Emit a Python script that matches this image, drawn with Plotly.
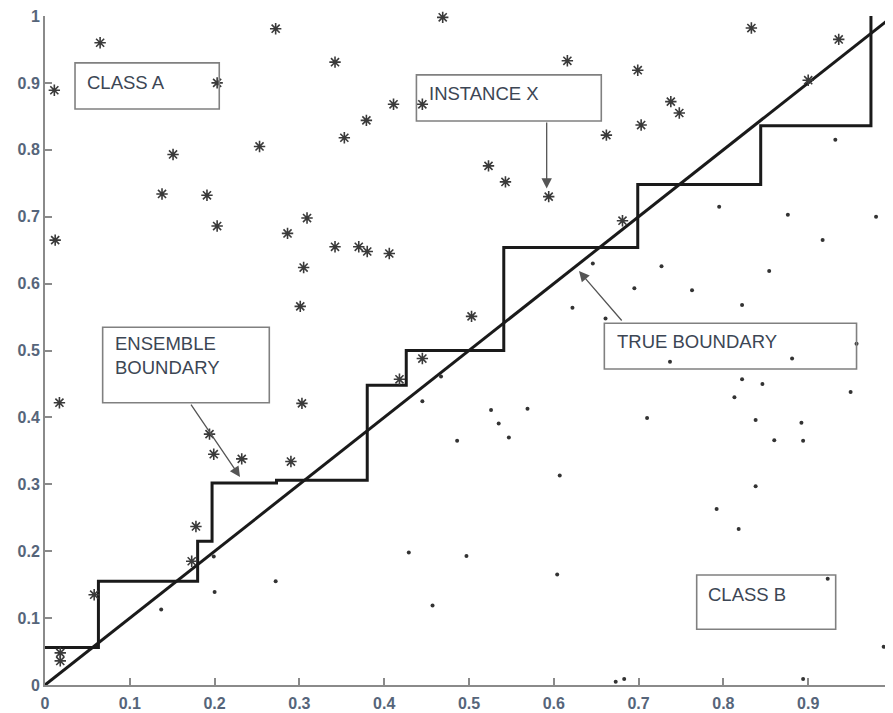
import plotly.graph_objects as go

# ---- data ----
class_a_x = [0.011, 0.065, 0.203, 0.272, 0.151, 0.138, 0.191, 0.203, 0.253, 0.286, 0.012,
             0.469, 0.342, 0.616, 0.411, 0.445, 0.379, 0.353, 0.523, 0.543, 0.594, 0.309,
             0.833, 0.936, 0.699, 0.900, 0.738, 0.748, 0.703, 0.662, 0.681,
             0.017, 0.301, 0.303, 0.194, 0.199, 0.232, 0.290, 0.305,
             0.342, 0.370, 0.380, 0.406, 0.503, 0.445, 0.418,
             0.018, 0.018, 0.058, 0.178, 0.173]
class_a_y = [0.889, 0.960, 0.900, 0.981, 0.793, 0.734, 0.732, 0.686, 0.805, 0.675, 0.665,
             0.998, 0.931, 0.933, 0.868, 0.868, 0.844, 0.818, 0.776, 0.752, 0.730, 0.698,
             0.982, 0.965, 0.919, 0.904, 0.872, 0.855, 0.837, 0.822, 0.694,
             0.422, 0.566, 0.421, 0.375, 0.345, 0.338, 0.334, 0.624,
             0.655, 0.655, 0.648, 0.645, 0.551, 0.488, 0.457,
             0.048, 0.036, 0.135, 0.237, 0.185]

class_b_x = [0.932, 0.795, 0.876, 0.980, 0.917,
             0.622, 0.467, 0.445, 0.526, 0.569, 0.535, 0.547, 0.486,
             0.646, 0.727, 0.854, 0.695, 0.763, 0.822, 0.661, 0.957, 0.737, 0.881, 0.822,
             0.846, 0.813, 0.950, 0.710, 0.838, 0.892, 0.860, 0.894,
             0.199, 0.137, 0.200, 0.272,
             0.607, 0.429, 0.497, 0.604, 0.457,
             0.838, 0.792, 0.818, 0.923, 0.989, 0.673, 0.683, 0.894]
class_b_y = [0.815, 0.715, 0.703, 0.700, 0.665,
             0.564, 0.461, 0.424, 0.411, 0.413, 0.391, 0.370, 0.365,
             0.630, 0.626, 0.619, 0.593, 0.590, 0.568, 0.548, 0.510, 0.483, 0.488, 0.457,
             0.450, 0.430, 0.438, 0.399, 0.396, 0.392, 0.366, 0.365,
             0.192, 0.113, 0.139, 0.155,
             0.313, 0.198, 0.193, 0.165, 0.119,
             0.297, 0.263, 0.233, 0.159, 0.057, 0.005, 0.009, 0.009]

ensemble_x = [0.0, 0.063, 0.180, 0.197, 0.273, 0.380, 0.426, 0.541, 0.699, 0.844, 0.974]
ensemble_y = [0.056, 0.155, 0.215, 0.302, 0.306, 0.448, 0.500, 0.654, 0.748, 0.836, 1.0]

true_x = [0.0, 1.0]
true_y = [0.0, 1.0]

tick_vals = [0, 0.1, 0.2, 0.3, 0.4, 0.5, 0.6, 0.7, 0.8, 0.9, 1]
tick_text = ["0", "0.1", "0.2", "0.3", "0.4", "0.5", "0.6", "0.7", "0.8", "0.9", "1"]

# label boxes: (text, x0, x1, y0, y1, text_x, text_y)
boxes = [
    ("CLASS A", 0.0354, 0.2055, 0.861, 0.930, 0.047, 0.900),
    ("INSTANCE X", 0.438, 0.656, 0.843, 0.912, 0.4505, 0.884),
    ("ENSEMBLE<br>BOUNDARY", 0.068, 0.2645, 0.422, 0.5347, 0.080, 0.493),
    ("TRUE BOUNDARY", 0.6596, 0.957, 0.4723, 0.5407, 0.672, 0.513),
    ("CLASS B", 0.7685, 0.9324, 0.0833, 0.1644, 0.780, 0.136),
]
# arrows: (head_x, head_y, tail_x, tail_y)
arrows = [
    (0.5916, 0.742, 0.5916, 0.843),
    (0.230, 0.311, 0.171, 0.4215),
    (0.6297, 0.6188, 0.6816, 0.5426),
]

fig = go.Figure()
fig.add_trace(go.Scatter(x=ensemble_x, y=ensemble_y, mode="lines", line_shape="hv",
                         line=dict(color="#1a1a1a", width=3), hoverinfo="skip", cliponaxis=False))
fig.add_trace(go.Scatter(x=true_x, y=true_y, mode="lines",
                         line=dict(color="#1a1a1a", width=3), hoverinfo="skip", cliponaxis=False))
fig.add_trace(go.Scatter(x=class_a_x, y=class_a_y, mode="markers", cliponaxis=False,
                         marker=dict(symbol="asterisk-open", size=9.5, color="#3a3a3a",
                                     line=dict(color="#3a3a3a", width=1.6))))
fig.add_trace(go.Scatter(x=class_b_x, y=class_b_y, mode="markers", cliponaxis=False,
                         marker=dict(symbol="circle", size=4, color="#333333")))

for text, x0, x1, y0, y1, tx, ty in boxes:
    fig.add_shape(type="rect", x0=x0, x1=x1, y0=y0, y1=y1, xref="x", yref="y",
                  line=dict(color="#808080", width=1.6), fillcolor="rgba(0,0,0,0)")
    fig.add_annotation(x=tx, y=ty, xref="x", yref="y", text=text, showarrow=False,
                       xanchor="left", yanchor="middle", align="left",
                       font=dict(family="Liberation Sans, Arial, sans-serif", size=18.5, color="#3c4654"))

for hx, hy, tx, ty in arrows:
    fig.add_annotation(x=hx, y=hy, ax=tx, ay=ty, xref="x", yref="y", axref="x", ayref="y",
                       text="", showarrow=True, arrowhead=2, arrowsize=1.6, arrowwidth=1.3,
                       arrowcolor="#555555", standoff=0, startstandoff=0)

axis_common = dict(range=[0, 1], showgrid=False, zeroline=False, showline=True,
                   linecolor="#8a8a8a", linewidth=2, ticks="inside", ticklen=7,
                   tickcolor="#8a8a8a", tickwidth=1.5, tickvals=tick_vals, ticktext=tick_text,
                   automargin=False, ticklabeloverflow="allow",
                   tickfont=dict(family="Liberation Sans, Arial, sans-serif", size=16,
                                 color="#56657a", weight="bold"))
fig.update_xaxes(**axis_common, ticklabelstandoff=3)
fig.update_yaxes(**axis_common)

# the page body has an 8px default margin, so the figure is offset by 8px
fig.update_layout(width=885, height=705, showlegend=False,
                  margin=dict(l=37, r=0, t=8, b=28),
                  plot_bgcolor="white", paper_bgcolor="white")

fig.write_html("out.html")
